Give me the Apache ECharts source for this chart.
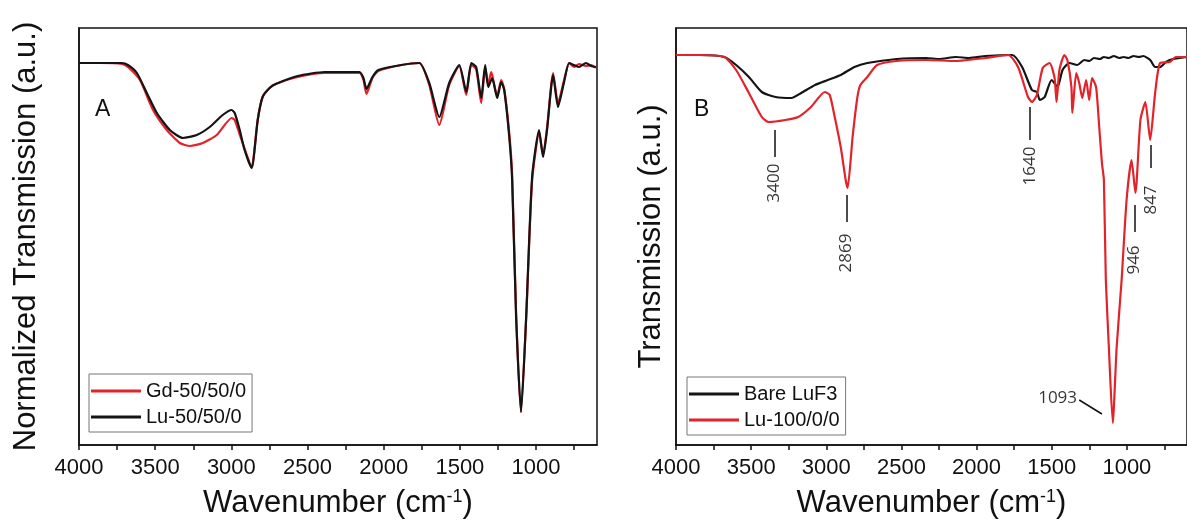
<!DOCTYPE html>
<html><head><meta charset="utf-8">
<script src="https://cdn.jsdelivr.net/npm/echarts@6/dist/echarts.min.js"></script>
<style>html,body{margin:0;padding:0;background:#fff}#c{width:1187px;height:527px}</style>
</head><body><div id="c"></div>
<script>
// ---- data: [wavenumber (cm-1), transmission (a.u.)] ----
const gd50 = [[4000,382],[3862,382],[3718,381],[3679,378],[3600,365],[3514,335],[3424,315],[3338,302],[3272,299],[3187,302],[3096,310],[2998,327],[2978,325],[2933,305],[2880,282],[2867,277],[2827,325],[2795,348],[2749,357],[2709,361],[2565,368],[2388,372],[2159,372],[2133,365],[2113,351],[2074,367],[2035,374],[1884,380],[1766,382],[1701,360],[1635,320],[1570,360],[1504,379],[1458,350],[1425,380],[1393,376],[1360,342],[1334,378],[1314,360],[1295,373],[1288,370],[1255,349],[1229,365],[1209,356],[1176,312],[1157,270],[1131,132],[1100,33],[1065,126],[1026,264],[980,312],[954,290],[928,317],[888,372],[856,342],[816,365],[783,382],[751,378],[718,381],[672,379],[639,380],[607,377]];
const lu50 = [[4000,382],[3862,382],[3718,382],[3679,380],[3620,372],[3555,352],[3489,332],[3404,315],[3319,307],[3227,310],[3142,318],[3057,330],[2998,335],[2978,332],[2945,315],[2913,295],[2867,277],[2827,325],[2795,348],[2749,357],[2709,361],[2565,369],[2388,373],[2159,373],[2133,367],[2113,356],[2074,368],[2035,375],[1884,380],[1766,382],[1701,362],[1635,328],[1570,362],[1504,380],[1458,353],[1425,382],[1393,378],[1360,347],[1334,380],[1314,358],[1288,367],[1255,347],[1229,363],[1209,355],[1176,308],[1157,265],[1131,128],[1098,33],[1065,128],[1026,268],[980,315],[954,288],[928,315],[888,370],[856,338],[816,363],[783,382],[751,380],[718,378],[672,382],[639,379],[607,378]];
const bareLuF3 = [[4000,390],[3843,390],[3679,388],[3600,380],[3515,368],[3429,353],[3337,348],[3232,347],[3167,352],[3075,360],[2990,365],[2904,370],[2813,378],[2727,382],[2531,386],[2334,387],[2250,386],[2137,388],[2050,387],[1940,389],[1763,390],[1697,378],[1632,355],[1599,353],[1579,345],[1547,348],[1501,365],[1461,358],[1428,375],[1382,382],[1330,380],[1284,385],[1250,384],[1219,387],[1180,386],[1153,388],[1120,387],[1087,389],[1050,387],[1022,388],[990,387],[956,389],[920,388],[891,389],[845,385],[812,378],[779,378],[740,383],[694,386],[648,387],[600,388]];
const lu100 = [[4000,390],[3843,390],[3679,388],[3600,375],[3515,352],[3429,328],[3383,323],[3272,325],[3187,328],[3102,338],[3010,353],[2977,350],[2944,328],[2904,298],[2871,265],[2858,257],[2825,308],[2793,348],[2773,360],[2727,368],[2662,380],[2531,384],[2334,385],[2137,384],[1940,387],[1789,390],[1724,378],[1658,348],[1632,343],[1599,350],[1560,377],[1514,382],[1481,367],[1468,343],[1449,375],[1416,390],[1396,385],[1369,358],[1363,332],[1337,372],[1317,362],[1297,347],[1271,365],[1251,345],[1232,367],[1205,358],[1186,322],[1166,282],[1153,265],[1140,165],[1120,98],[1094,22],[1068,98],[1035,165],[1002,245],[969,285],[943,252],[910,325],[877,343],[845,305],[812,352],[779,382],[714,383],[674,388],[600,388]];
const xLabels = [1000,1500,2000,2500,3000,3500,4000];
const xTicks = [750,1000,1250,1500,1750,2000,2250,2500,2750,3000,3250,3500,3750,4000];
// peak annotations (label text, position on the wavenumber axis)
const peakText = ['3400','2869','1640','946','847'];
const peakWn = [3344,2865,1645,950,838];
const mainPeakText = '1093';

// leader-line and label heights (layout, in axis units)
const peakLayout = [[315,288,262],[250,223,192],[338,305,279],[240,213,185],[300,277,245]];

const RED = '#e3232a', BLACK = '#141414';
const FONT = 'Liberation Sans';

function xAxis(gi){
  return {
    type:'value', gridIndex:gi, min:600, max:4000, inverse:true,
    name:'Wavenumber (cm{sup|-1})', nameLocation:'middle', nameGap:43,
    nameTextStyle:{fontFamily:FONT, fontSize:31, color:'#111',
      rich:{sup:{fontFamily:FONT, fontSize:18, verticalAlign:'top', color:'#111'}}},
    axisLine:{show:true, lineStyle:{color:'#111', width:1.5}},
    axisTick:{show:true, inside:false, length:5, customValues:xTicks, lineStyle:{color:'#111', width:1.5}},
    axisLabel:{show:true, customValues:xLabels, margin:12, fontFamily:FONT, fontSize:22, color:'#111',
      showMaxLabel:true, showMinLabel:true, formatter:(v)=>String(v)},
    splitLine:{show:false}
  };
}
function yAxis(gi, name, gap){
  return {
    type:'value', gridIndex:gi, min:0, max:417,
    name:name, nameLocation:'middle', nameGap:gap, nameRotate:90,
    nameTextStyle:{fontFamily:FONT, fontSize:31, color:'#111'},
    axisLine:{show:true, lineStyle:{color:'#111', width:1.5}},
    axisTick:{show:false}, axisLabel:{show:false}, splitLine:{show:false}
  };
}
function lineSeries(name, data, color, xi){
  return {type:'line', name:name, data:data, xAxisIndex:xi, yAxisIndex:xi,
    symbol:'none', smooth:0.2, lineStyle:{color:color, width:2.2}, itemStyle:{color:color},
    animation:false, z:3};
}

const annLines = peakWn.map((w,i)=>[{coord:[w,peakLayout[i][0]]},{coord:[w,peakLayout[i][1]]}]);
annLines.push([{coord:[1317,45]},{coord:[1166,31]}]);
const annLabels = peakWn.map((w,i)=>({value:[w,peakLayout[i][2]], label:{formatter:peakText[i], rotate:90}}));
annLabels.push({value:[1461,47], label:{formatter:mainPeakText, rotate:0}});

const legendCommon = {orient:'vertical', icon:'rect', itemWidth:50, itemHeight:3, itemGap:6,
  padding:[7,6,5,2], borderColor:'#777', borderWidth:1, textStyle:{fontFamily:FONT, fontSize:20, color:'#111'}};

const chart = echarts.init(document.getElementById('c'), null, {renderer:'canvas'});
chart.setOption({
  animation:false,
  backgroundColor:'#fff',
  grid:[
    {left:79, top:28, width:518, height:417, show:true, borderColor:'#111', borderWidth:1.5, backgroundColor:'transparent'},
    {left:676, top:28, width:518, height:417, show:true, borderColor:'#111', borderWidth:1.5, backgroundColor:'transparent'}
  ],
  xAxis:[xAxis(0), xAxis(1)],
  yAxis:[yAxis(0,'Normalized Transmission (a.u.)',37), yAxis(1,'Transmission (a.u.)',9)],
  legend:[
    Object.assign({data:['Gd-50/50/0','Lu-50/50/0'], left:89, top:374}, legendCommon),
    Object.assign({data:['Bare LuF3','Lu-100/0/0'], left:687, top:377}, legendCommon)
  ],
  graphic:[
    {type:'text', left:95, top:98, style:{text:'A', font:'23px "Liberation Sans"', fill:'#111'}},
    {type:'text', left:694, top:98, style:{text:'B', font:'23px "Liberation Sans"', fill:'#111'}}
  ],
  series:[
    lineSeries('Gd-50/50/0', gd50, RED, 0),
    lineSeries('Lu-50/50/0', lu50, BLACK, 0),
    lineSeries('Bare LuF3', bareLuF3, BLACK, 1),
    lineSeries('Lu-100/0/0', lu100, RED, 1),
    {type:'scatter', xAxisIndex:1, yAxisIndex:1, data:annLabels, symbolSize:0, silent:true, z:5,
     label:{show:true, position:'inside', fontFamily:'Open Sans', fontSize:17, color:'#000', align:'center', verticalAlign:'middle'},
     markLine:{symbol:'none', silent:true, label:{show:false}, lineStyle:{color:'#111', width:1.5, type:'solid'}, data:annLines, animation:false}}
  ]
});
</script></body></html>
